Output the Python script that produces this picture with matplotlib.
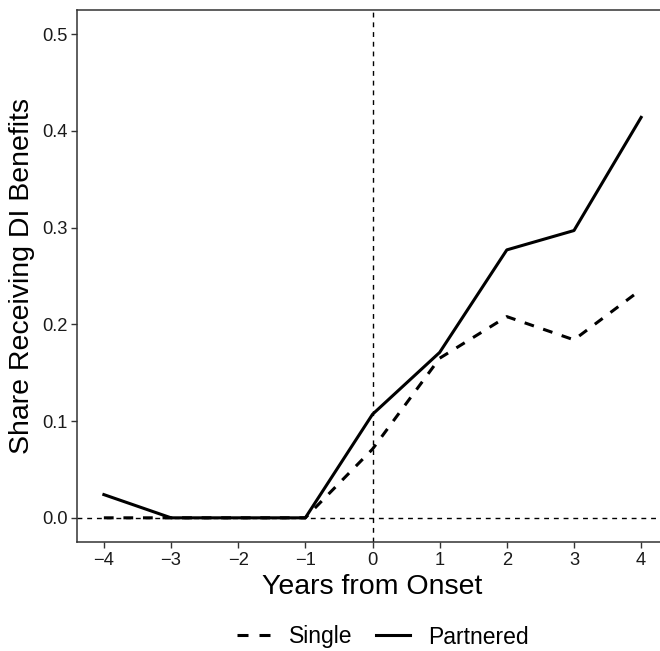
import matplotlib
matplotlib.use("Agg")
import matplotlib.pyplot as plt
from matplotlib.lines import Line2D

plt.rcParams['font.family'] = ['Liberation Sans', 'DejaVu Sans']

# data
years = [-4, -3, -2, -1, 0, 1, 2, 3, 4]
single = [0.0, 0.0, 0.0, 0.0, 0.071, 0.165, 0.208, 0.184, 0.236]
partnered = [0.024, 0.0, 0.0, 0.0, 0.107, 0.171, 0.277, 0.297, 0.414]
y_ticks = [0.0, 0.1, 0.2, 0.3, 0.4, 0.5]
x_ticks = [-4, -3, -2, -1, 0, 1, 2, 3, 4]

W, H = 660, 651
fig = plt.figure(figsize=(W / 100, H / 100), dpi=100)

# panel in pixels: left 77, top 10, bottom 542, right edge runs past image (~668)
left, top, bottom, right = 77, 10, 542, 668
ax = fig.add_axes([left / W, 1 - bottom / H, (right - left) / W, (bottom - top) / H])

ax.axhline(0, color='black', lw=1.0, ls=(0, (3.5, 3.5)), zorder=1)
ax.axvline(0, color='black', lw=1.0, ls=(0, (3.5, 3.5)), zorder=1)

ax.plot(years, single, color='black', lw=2.2, ls=(0, (3.2, 3.2)), label='Single')
ax.plot(years, partnered, color='black', lw=2.2, ls='-', label='Partnered')

ax.set_xlim(-4.4, 4.4)
ax.set_ylim(-0.025, 0.525)
ax.set_xticks(x_ticks)
ax.set_xticklabels([str(x).replace('-', '\u2212') for x in x_ticks])
ax.set_yticks(y_ticks)
ax.set_yticklabels([f'{v:.1f}' for v in y_ticks])

for s in ['left', 'bottom', 'top']:
    ax.spines[s].set_color('#333333')
    ax.spines[s].set_linewidth(1.1)
ax.spines['right'].set_visible(False)

ax.tick_params(axis='both', length=4, width=1.0, color='#333333',
               labelsize=13.2, labelcolor='#1a1a1a', pad=3)

ax.set_xlabel('Years from Onset', fontsize=20.5, labelpad=4)
ax.set_ylabel('Share Receiving DI Benefits', fontsize=20.5, labelpad=5)

handles = [Line2D([], [], color='black', lw=2.2, ls=(0, (3.6, 3.6))),
           Line2D([], [], color='black', lw=2.2, ls='-')]
fig.legend(handles, ['Single', 'Partnered'], loc='center',
           bbox_to_anchor=(383 / W, 1 - 637 / H), ncol=2, frameon=False,
           fontsize=16.5, handlelength=1.5, handletextpad=0.8, columnspacing=1.0)

fig.savefig('out.png', dpi=100)
